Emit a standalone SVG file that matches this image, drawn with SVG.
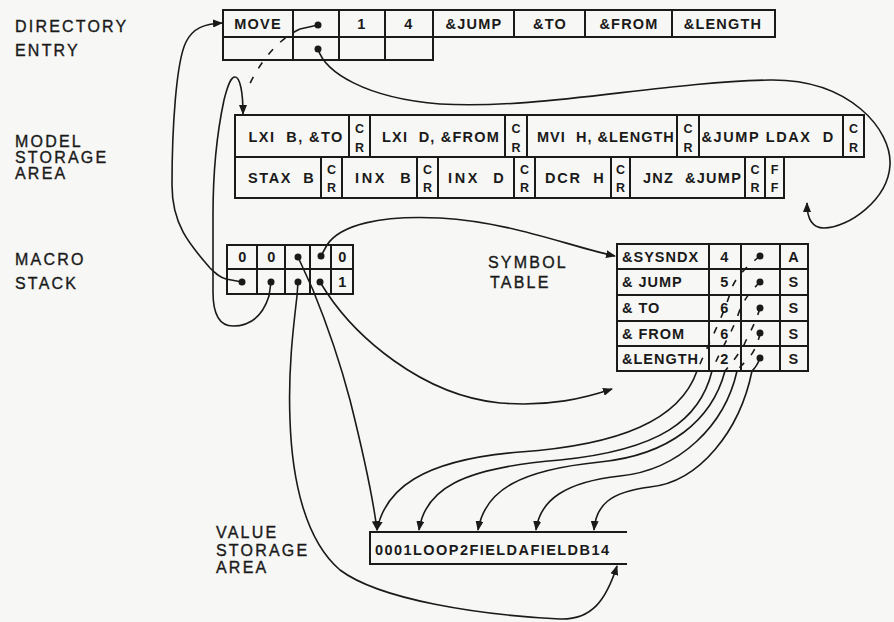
<svg xmlns="http://www.w3.org/2000/svg" width="894" height="622" viewBox="0 0 894 622">
<defs>
<marker id="ah" markerWidth="10" markerHeight="8" refX="9" refY="4" orient="auto" markerUnits="userSpaceOnUse"><path d="M0,0 L10,4 L0,8 z" fill="#1a1a1a"/></marker>
<style>
.lbl{font-family:"Liberation Sans",Arial,sans-serif;font-size:16px;letter-spacing:2.2px;fill:#1a1a1a;stroke:#1a1a1a;stroke-width:0.35px}
.t{font-family:"Liberation Sans",Arial,sans-serif;font-size:14.5px;font-weight:bold;fill:#1a1a1a;text-anchor:middle;letter-spacing:1.2px}
.tl{font-family:"Liberation Sans",Arial,sans-serif;font-size:14.5px;font-weight:bold;fill:#1a1a1a;letter-spacing:1px}
.cr{font-family:"Liberation Sans",Arial,sans-serif;font-size:12.5px;font-weight:bold;fill:#1a1a1a;text-anchor:middle}
.box{fill:none;stroke:#1a1a1a;stroke-width:2}
.ln{fill:none;stroke:#1a1a1a;stroke-width:1.6}
.dash{stroke-dasharray:7 10}
.dot{fill:#1a1a1a}
</style>
</defs>
<rect width="894" height="622" fill="#f7f7f5"/>
<g id="labels">
<text class="lbl" x="15" y="32">DIRECTORY</text>
<text class="lbl" x="15" y="56">ENTRY</text>
<text class="lbl" x="15" y="147">MODEL</text>
<text class="lbl" x="15" y="163">STORAGE</text>
<text class="lbl" x="15" y="179">AREA</text>
<text class="lbl" x="15" y="265">MACRO</text>
<text class="lbl" x="15" y="289">STACK</text>
<text class="lbl" x="488" y="268">SYMBOL</text>
<text class="lbl" x="490" y="288">TABLE</text>
<text class="lbl" x="216" y="538">VALUE</text>
<text class="lbl" x="216" y="556">STORAGE</text>
<text class="lbl" x="216" y="573">AREA</text>
</g>
<g id="directory-entry">
<path class="box" d="M223,10 H775 V37 H223 Z M223,37 V60 H433 V37 M293,10 V60 M339,10 V60 M385,10 V60 M433,10 V60 M514,10 V37 M585,10 V37 M672,10 V37"/>
<text class="t" x="258" y="29">MOVE</text>
<text class="t" x="362" y="29">1</text>
<text class="t" x="409" y="29">4</text>
<text class="t" x="474" y="29">&amp;JUMP</text>
<text class="t" x="550" y="29">&amp;TO</text>
<text class="t" x="629" y="29">&amp;FROM</text>
<text class="t" x="723" y="29">&amp;LENGTH</text>
<circle class="dot" cx="318" cy="25" r="3.5"/>
<circle class="dot" cx="318" cy="49" r="3.5"/>
</g>
<g id="model-storage-area">
<path class="box" d="M235,115 H864 V157 H235 Z M235,157 V198 H784 V157 M349,115 V157 M370,115 V157 M505,115 V157 M527,115 V157 M677,115 V157 M699,115 V157 M843,115 V157 M321,157 V198 M342,157 V198 M417,157 V198 M438,157 V198 M514,157 V198 M535,157 V198 M611,157 V198 M630,157 V198 M745,157 V198 M765,157 V198"/>
<text class="t" x="296" y="142" xml:space="preserve" textLength="95" lengthAdjust="spacing">LXI  B, &amp;TO</text>
<text class="t" x="441" y="142" xml:space="preserve" textLength="118" lengthAdjust="spacing">LXI  D, &amp;FROM</text>
<text class="t" x="606" y="142" xml:space="preserve" textLength="138" lengthAdjust="spacing">MVI  H, &amp;LENGTH</text>
<text class="t" x="768" y="142" xml:space="preserve" textLength="133" lengthAdjust="spacing">&amp;JUMP LDAX  D</text>
<text class="cr" x="359.5" y="133">C</text><text class="cr" x="359.5" y="152">R</text>
<text class="cr" x="516" y="133">C</text><text class="cr" x="516" y="152">R</text>
<text class="cr" x="688" y="133">C</text><text class="cr" x="688" y="152">R</text>
<text class="cr" x="853.5" y="133">C</text><text class="cr" x="853.5" y="152">R</text>
<text class="t" x="281.5" y="183" xml:space="preserve" textLength="67" lengthAdjust="spacing">STAX  B</text>
<text class="t" x="383.5" y="183" xml:space="preserve" textLength="57" lengthAdjust="spacing">INX  B</text>
<text class="t" x="476.5" y="183" xml:space="preserve" textLength="57" lengthAdjust="spacing">INX  D</text>
<text class="t" x="575" y="183" xml:space="preserve" textLength="60" lengthAdjust="spacing">DCR  H</text>
<text class="t" x="692.5" y="183" xml:space="preserve" textLength="99" lengthAdjust="spacing">JNZ  &amp;JUMP</text>
<text class="cr" x="331.5" y="174">C</text><text class="cr" x="331.5" y="192">R</text>
<text class="cr" x="427.5" y="174">C</text><text class="cr" x="427.5" y="192">R</text>
<text class="cr" x="524.5" y="174">C</text><text class="cr" x="524.5" y="192">R</text>
<text class="cr" x="620.5" y="174">C</text><text class="cr" x="620.5" y="192">R</text>
<text class="cr" x="755" y="174">C</text><text class="cr" x="755" y="192">R</text>
<text class="cr" x="774.5" y="174">F</text><text class="cr" x="774.5" y="192">F</text>
</g>
<g id="macro-stack">
<path class="box" d="M227,245 H353 V294 H227 Z M227,269 H353 M257,245 V294 M285,245 V294 M310,245 V294 M331,245 V294"/>
<text class="t" x="243" y="262">0</text>
<text class="t" x="272" y="262">0</text>
<text class="t" x="343" y="262">0</text>
<text class="t" x="343" y="287">1</text>
<circle class="dot" cx="298" cy="257" r="3.5"/>
<circle class="dot" cx="321" cy="256" r="3.5"/>
<circle class="dot" cx="242" cy="282" r="3.5"/>
<circle class="dot" cx="271" cy="282" r="3.5"/>
<circle class="dot" cx="298" cy="282" r="3.5"/>
<circle class="dot" cx="320" cy="282" r="3.5"/>
</g>
<g id="symbol-table">
<path class="box" d="M617,244 H808 V371 H617 Z M617,269 H808 M617,295 H808 M617,321 H808 M617,346 H808 M709,244 V371 M741,244 V371 M780,244 V371"/>
<text class="tl" x="622" y="261.5">&amp;SYSNDX</text>
<text class="tl" x="622" y="287" xml:space="preserve">&amp; JUMP</text>
<text class="tl" x="622" y="313" xml:space="preserve">&amp; TO</text>
<text class="tl" x="622" y="338.5" xml:space="preserve">&amp; FROM</text>
<text class="tl" x="622" y="363.5">&amp;LENGTH</text>
<text class="t" x="725" y="261.5">4</text>
<text class="t" x="725" y="287">5</text>
<text class="t" x="725" y="313">6</text>
<text class="t" x="725" y="338.5">6</text>
<text class="t" x="725" y="363.5">2</text>
<text class="t" x="794" y="261.5">A</text>
<text class="t" x="794" y="287">S</text>
<text class="t" x="794" y="313">S</text>
<text class="t" x="794" y="338.5">S</text>
<text class="t" x="794" y="363.5">S</text>
<circle class="dot" cx="760" cy="256" r="3.5"/>
<circle class="dot" cx="760" cy="282" r="3.5"/>
<circle class="dot" cx="760" cy="308" r="3.5"/>
<circle class="dot" cx="760" cy="333" r="3.5"/>
<circle class="dot" cx="760" cy="358" r="3.5"/>
</g>
<g id="value-storage-area">
<path class="box" d="M627,532 H370 V564 H627"/>
<text class="tl" x="375" y="555" textLength="235" lengthAdjust="spacing">0001LOOP2FIELDAFIELDB14</text>
</g>
<g id="connectors">
<path class="ln" marker-end="url(#ah)" d="M242,282 L226,279 C219,277 215,273 210,268 C190,245 172,225 172,185 C172,130 176,62 186,42 C193,28 204,24 222,23"/>
<path class="ln" marker-end="url(#ah)" d="M271,282 L269,296 C262,318 248,326 233,326 C218,326 213,312 213,292 L213,215 C213,170 218,128 224,100 C228,84 231,77 235,77 C240,77 243,92 243,114"/>
<path class="ln" d="M318,25 L300,29"/>
<path class="ln dash" d="M300,29 C280,38 260,60 247,90"/>
<path class="ln" marker-end="url(#ah)" d="M318,49 C325,72 365,98 440,104 C540,110 660,82 770,80 C850,79 892,130 890,165 C888,200 848,228 824,228 C812,228 807,218 807,203"/>
<path class="ln" marker-end="url(#ah)" d="M321,256 L327,245 C340,225 380,215 440,218 C510,222 565,245 615,256"/>
<path class="ln" marker-end="url(#ah)" d="M298,257 L313,290 C326,322 340,362 350,400 C360,440 372,490 377,530"/>
<path class="ln" marker-end="url(#ah)" d="M298,282 L297,296 C293,330 288,372 290,420 C292,480 305,540 340,570 C380,600 480,615 560,619 C592,620 606,600 617,566"/>
<path class="ln" marker-end="url(#ah)" d="M320,282 L327,293 C355,335 420,395 500,403 C550,407 585,398 612,389"/>
<path class="ln dash" d="M760,256 C745,268 735,278 731,290 C724,315 710,340 697,371"/>
<path class="ln dash" d="M760,282 C750,292 743,300 738,315 C731,335 720,350 712,371"/>
<path class="ln dash" d="M760,308 C755,325 748,335 744,345 C736,358 730,365 725,371"/>
<path class="ln dash" d="M760,333 C758,345 752,355 747,360 C742,365 739,368 737,371"/>
<path class="ln" d="M760,358 C758,364 755,368 752,371"/>
<path class="ln" marker-end="url(#ah)" d="M697,371 C680,420 620,445 520,452 C420,460 385,490 377,530"/>
<path class="ln" marker-end="url(#ah)" d="M712,371 C700,420 660,450 560,460 C460,468 425,490 419,530"/>
<path class="ln" marker-end="url(#ah)" d="M725,371 C712,420 670,455 600,462 C520,470 485,490 478,530"/>
<path class="ln" marker-end="url(#ah)" d="M737,371 C725,425 680,470 620,476 C565,482 540,500 536,530"/>
<path class="ln" marker-end="url(#ah)" d="M752,371 C740,430 700,482 650,487 C610,492 596,505 594,530"/>
</g>
</svg>
